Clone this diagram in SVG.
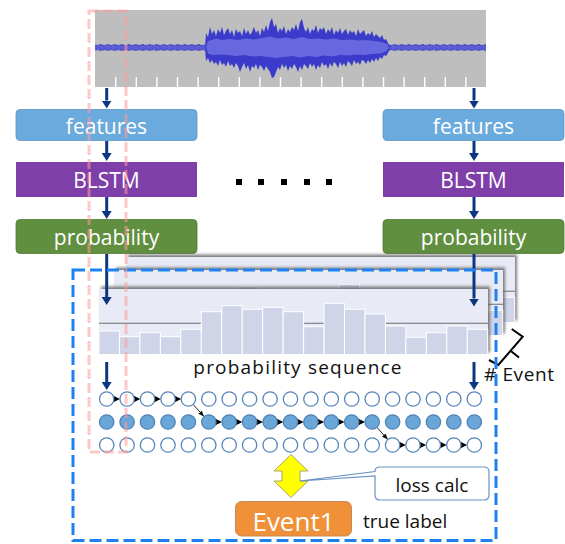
<svg xmlns="http://www.w3.org/2000/svg" xmlns:xlink="http://www.w3.org/1999/xlink" width="565" height="544" viewBox="0 0 565 544">
<defs>
<style>
.t{font-family:"Open Sans","Liberation Sans",sans-serif;}
.bt{font-family:"Open Sans","Liberation Sans",sans-serif;font-size:21px;fill:#fff;text-anchor:middle;}
.nav{stroke:#0c3680;stroke-width:3;fill:none;marker-end:url(#ah);}
.thin{stroke:#111;stroke-width:0.9;fill:none;marker-end:url(#sh2);}
.c{fill:#fff;stroke:#5585ba;stroke-width:1.3;}
.cf{fill:#6aa6d8;stroke:#4f83b8;stroke-width:1.3;}
.bar{fill:#cfd4e9;stroke:#fff;stroke-width:1;}
.tick{stroke:#fff;stroke-width:1.4;}
</style>
<marker id="ah" viewBox="0 0 10 10" refX="0" refY="5" markerWidth="8" markerHeight="10" markerUnits="userSpaceOnUse" orient="auto" preserveAspectRatio="none"><path d="M0,0 L10,5 L0,10 Z" fill="#0c3680"/></marker>
<marker id="sh2" viewBox="0 0 10 10" refX="10" refY="5" markerWidth="6" markerHeight="6" markerUnits="userSpaceOnUse" orient="auto"><path d="M0,1 L10,5 L0,9 Z" fill="#111"/></marker>
<path id="tri" d="M-7,-3.6 L0,0 L-7,3.6 Z" fill="#000"/>
<filter id="shadow" x="-5%" y="-20%" width="115%" height="140%"><feDropShadow dx="2" dy="-2.5" stdDeviation="1.6" flood-color="#555" flood-opacity="0.75"/></filter>
<pattern id="quiet" x="0" y="44" width="7" height="7" patternUnits="userSpaceOnUse">
<rect x="0" y="1.5" width="7" height="4" fill="#5c5cd8"/>
<path d="M0,1.5 L1,0.5 L2,2 L3,0 L4,1.8 L5,0.8 L6,2.2 L7,1.5 M0,5.5 L1,6.6 L2,5 L3,6.8 L4,5.2 L5,6.4 L6,5 L7,5.5" stroke="#3434c6" stroke-width="0.9" fill="none"/>
</pattern>
<g id="chart">
<rect x="99" y="289" width="389" height="66" fill="#e8ebf5" filter="url(#shadow)"/>
<line x1="99" y1="323.3" x2="488" y2="323.3" stroke="#6e6e6e" stroke-width="1.1"/>
<rect class="bar" x="99" y="331" width="20.46" height="23.5"/>
<rect class="bar" x="119.46" y="336.7" width="20.46" height="17.8"/>
<rect class="bar" x="139.92" y="332.7" width="20.46" height="21.8"/>
<rect class="bar" x="160.38" y="336.7" width="20.46" height="17.8"/>
<rect class="bar" x="180.84" y="329.3" width="20.46" height="25.2"/>
<rect class="bar" x="201.3" y="311.7" width="20.46" height="42.8"/>
<rect class="bar" x="221.76" y="305.7" width="20.46" height="48.8"/>
<rect class="bar" x="242.22" y="309.3" width="20.46" height="45.2"/>
<rect class="bar" x="262.68" y="307.3" width="20.46" height="47.2"/>
<rect class="bar" x="283.14" y="311.7" width="20.46" height="42.8"/>
<rect class="bar" x="303.6" y="326.7" width="20.46" height="27.8"/>
<rect class="bar" x="324.06" y="303.3" width="20.46" height="51.2"/>
<rect class="bar" x="344.52" y="309.3" width="20.46" height="45.2"/>
<rect class="bar" x="364.98" y="314" width="20.46" height="40.5"/>
<rect class="bar" x="385.44" y="326" width="20.46" height="28.5"/>
<rect class="bar" x="405.9" y="337.3" width="20.46" height="17.2"/>
<rect class="bar" x="426.36" y="332.7" width="20.46" height="21.8"/>
<rect class="bar" x="446.82" y="326" width="20.46" height="28.5"/>
<rect class="bar" x="467.28" y="329.3" width="20.46" height="25.2"/>
</g>
</defs>

<g id="waveform">
<rect x="95" y="10" width="391" height="77" fill="#bebebe"/>
<rect x="95" y="44" width="110" height="7" fill="url(#quiet)"/>
<rect x="389" y="44" width="97" height="7" fill="url(#quiet)"/>
<path fill="#3a3acb" d="M205,47 L206,33 L208,37 L210,27 L212,34 L214,30 L216,36 L218,29 L220,33 L222,27 L224,35 L226,31 L228,28 L230,34 L232,30 L234,37 L236,29 L238,33 L240,31 L242,36 L244,28 L246,34 L248,30 L250,35 L252,32 L254,27 L256,33 L258,30 L260,36 L262,28 L264,32 L266,25 L268,31 L270,22 L272,18 L274,27 L276,24 L278,33 L280,28 L282,31 L284,26 L286,34 L288,29 L290,32 L292,27 L294,30 L296,24 L298,31 L300,22 L302,19 L304,28 L306,32 L308,27 L310,34 L312,29 L314,31 L316,25 L318,33 L320,28 L322,30 L324,27 L326,34 L328,29 L330,32 L332,27 L334,35 L336,30 L338,33 L340,28 L342,34 L344,31 L346,29 L348,35 L350,30 L352,33 L354,31 L356,36 L358,29 L360,34 L362,32 L364,30 L366,36 L368,33 L370,35 L372,31 L374,37 L376,34 L378,36 L380,38 L382,35 L384,40 L386,39 L388,43 L390,46 L390,49 L388,53 L386,56 L384,55 L382,59 L380,57 L378,61 L376,58 L374,62 L372,59 L370,63 L368,60 L366,64 L364,61 L362,60 L360,65 L358,62 L356,64 L354,60 L352,66 L350,63 L348,61 L346,67 L344,63 L342,66 L340,62 L338,68 L336,64 L334,62 L332,67 L330,63 L328,69 L326,64 L324,66 L322,62 L320,68 L318,65 L316,70 L314,64 L312,67 L310,63 L308,69 L306,66 L304,64 L302,70 L300,66 L298,72 L296,67 L294,64 L292,69 L290,66 L288,71 L286,65 L284,68 L282,64 L280,70 L278,67 L276,72 L274,77 L272,78 L270,72 L268,69 L266,66 L264,71 L262,67 L260,65 L258,70 L256,64 L254,68 L252,66 L250,72 L248,65 L246,69 L244,63 L242,67 L240,72 L238,66 L236,63 L234,68 L232,64 L230,66 L228,61 L226,67 L224,63 L222,65 L220,60 L218,66 L216,62 L214,64 L212,60 L210,63 L208,58 L206,61 L205,48 Z"/>
<path fill="#6767df" d="M206,47 L208,41 L212,40 L216,38.5 L222,40 L230,39 L238,40 L246,38.5 L254,39.5 L262,38 L270,36.5 L278,38.5 L286,37.5 L294,39 L302,37 L310,39 L318,38.5 L326,39.5 L334,38.5 L342,40 L350,39.5 L358,40.5 L366,40 L374,41 L382,42 L388,44.5 L389,48 L386,51.5 L380,53.5 L372,54 L364,55 L356,54.5 L348,55.5 L340,55 L332,56.5 L324,55.5 L316,57 L308,56 L300,57.5 L292,56 L284,57 L276,58 L268,57 L260,56 L252,56.5 L244,55 L236,56 L228,55 L220,54.5 L212,55 L208,53.5 Z"/>
<line class="tick" x1="115.7" y1="77" x2="115.7" y2="87"/>
<line class="tick" x1="136.3" y1="77" x2="136.3" y2="87"/>
<line class="tick" x1="156.9" y1="77" x2="156.9" y2="87"/>
<line class="tick" x1="177.5" y1="77" x2="177.5" y2="87"/>
<line class="tick" x1="198.1" y1="77" x2="198.1" y2="87"/>
<line class="tick" x1="218.7" y1="77" x2="218.7" y2="87"/>
<line class="tick" x1="239.3" y1="77" x2="239.3" y2="87"/>
<line class="tick" x1="259.9" y1="77" x2="259.9" y2="87"/>
<line class="tick" x1="280.5" y1="77" x2="280.5" y2="87"/>
<line class="tick" x1="301.1" y1="77" x2="301.1" y2="87"/>
<line class="tick" x1="321.7" y1="77" x2="321.7" y2="87"/>
<line class="tick" x1="342.3" y1="77" x2="342.3" y2="87"/>
<line class="tick" x1="362.9" y1="77" x2="362.9" y2="87"/>
<line class="tick" x1="383.5" y1="77" x2="383.5" y2="87"/>
<line class="tick" x1="404.1" y1="77" x2="404.1" y2="87"/>
<line class="tick" x1="424.7" y1="77" x2="424.7" y2="87"/>
<line class="tick" x1="445.3" y1="77" x2="445.3" y2="87"/>
<line class="tick" x1="465.9" y1="77" x2="465.9" y2="87"/>
</g>

<g id="features-left"><rect x="16" y="109.5" width="181" height="31" rx="4" fill="#6aaadc" stroke="#5a94c4" stroke-width="0.8"/><text class="bt" x="106.5" y="133.5">features</text></g>
<g id="blstm-left"><rect x="16" y="162" width="181" height="35" fill="#7f3fa9"/><text class="bt" x="106.5" y="187.5">BLSTM</text></g>
<g id="probability-left"><rect x="16" y="219.5" width="181" height="34" rx="4" fill="#5f8f3f" stroke="#4f7c33" stroke-width="0.8"/><text class="bt" x="106.5" y="245">probability</text></g>

<g id="features-right"><rect x="383" y="109.5" width="181" height="31" rx="4" fill="#6aaadc" stroke="#5a94c4" stroke-width="0.8"/><text class="bt" x="473.5" y="133.5">features</text></g>
<g id="blstm-right"><rect x="383" y="162" width="181" height="35" fill="#7f3fa9"/><text class="bt" x="473.5" y="187.5">BLSTM</text></g>
<g id="probability-right"><rect x="383" y="219.5" width="181" height="34" rx="4" fill="#5f8f3f" stroke="#4f7c33" stroke-width="0.8"/><text class="bt" x="473.5" y="245">probability</text></g>

<g id="ellipsis" fill="#000">
<rect x="236" y="179" width="6" height="6"/><rect x="258" y="179" width="6" height="6"/><rect x="281" y="179" width="6" height="6"/><rect x="304" y="179" width="6" height="6"/><rect x="326" y="179" width="6" height="6"/>
</g>

<g id="probability-sequence">
<use href="#chart" transform="translate(27,-32)"/>
<use href="#chart" transform="translate(15,-19)"/>
<use href="#chart"/>
<text class="t" x="298" y="374" font-size="19" letter-spacing="1.2" text-anchor="middle" fill="#111">probability sequence</text>
</g>

<g id="brace" fill="none" stroke="#000" stroke-width="2">
<path d="M511.7,329 L522.7,336.7 L498.3,365 L489,360 M510.5,350.8 L519,357.5"/>
<text class="t" x="484" y="381" font-size="19" letter-spacing="0.6" fill="#111" stroke="none">#&#160;Event</text>
</g>

<g id="connectors">
<line class="nav" x1="106.7" y1="88" x2="106.7" y2="100.5"/>
<line class="nav" x1="106.7" y1="141" x2="106.7" y2="153"/>
<line class="nav" x1="106.7" y1="197" x2="106.7" y2="211"/>
<line class="nav" x1="106.7" y1="254" x2="106.7" y2="297"/>
<line class="nav" x1="106.7" y1="362" x2="106.7" y2="382"/>
<line class="nav" x1="474" y1="88" x2="474" y2="100.5"/>
<line class="nav" x1="474" y1="141" x2="474" y2="153"/>
<line class="nav" x1="474" y1="197" x2="474" y2="211"/>
<line class="nav" x1="474" y1="254" x2="474" y2="298.5"/>
<line class="nav" x1="474" y1="362" x2="474" y2="382"/>
<line class="thin" x1="193.2" y1="404.4" x2="204" y2="416.6"/>
<line class="thin" x1="377" y1="427.4" x2="387.8" y2="439.6"/>
<use href="#tri" x="119.9" y="399"/><use href="#tri" x="140.3" y="399"/><use href="#tri" x="160.8" y="399"/><use href="#tri" x="181.2" y="399"/>
<use href="#tri" x="222" y="422"/><use href="#tri" x="242.4" y="422"/><use href="#tri" x="262.9" y="422"/><use href="#tri" x="283.3" y="422"/><use href="#tri" x="303.7" y="422"/><use href="#tri" x="324.1" y="422"/><use href="#tri" x="344.5" y="422"/><use href="#tri" x="365" y="422"/>
<use href="#tri" x="405.8" y="445"/><use href="#tri" x="426.2" y="445"/><use href="#tri" x="446.6" y="445"/><use href="#tri" x="467.1" y="445"/>
</g>

<g id="state-grid">
<g class="c">
<circle cx="106.7" cy="399" r="7.2"/><circle cx="127.1" cy="399" r="7.2"/><circle cx="147.5" cy="399" r="7.2"/><circle cx="168" cy="399" r="7.2"/><circle cx="188.4" cy="399" r="7.2"/><circle cx="208.8" cy="399" r="7.2"/><circle cx="229.2" cy="399" r="7.2"/><circle cx="249.6" cy="399" r="7.2"/><circle cx="270.1" cy="399" r="7.2"/><circle cx="290.5" cy="399" r="7.2"/><circle cx="310.9" cy="399" r="7.2"/><circle cx="331.3" cy="399" r="7.2"/><circle cx="351.7" cy="399" r="7.2"/><circle cx="372.2" cy="399" r="7.2"/><circle cx="392.6" cy="399" r="7.2"/><circle cx="413" cy="399" r="7.2"/><circle cx="433.4" cy="399" r="7.2"/><circle cx="453.8" cy="399" r="7.2"/><circle cx="474.3" cy="399" r="7.2"/>
<circle cx="106.7" cy="445" r="7.2"/><circle cx="127.1" cy="445" r="7.2"/><circle cx="147.5" cy="445" r="7.2"/><circle cx="168" cy="445" r="7.2"/><circle cx="188.4" cy="445" r="7.2"/><circle cx="208.8" cy="445" r="7.2"/><circle cx="229.2" cy="445" r="7.2"/><circle cx="249.6" cy="445" r="7.2"/><circle cx="270.1" cy="445" r="7.2"/><circle cx="290.5" cy="445" r="7.2"/><circle cx="310.9" cy="445" r="7.2"/><circle cx="331.3" cy="445" r="7.2"/><circle cx="351.7" cy="445" r="7.2"/><circle cx="372.2" cy="445" r="7.2"/><circle cx="392.6" cy="445" r="7.2"/><circle cx="413" cy="445" r="7.2"/><circle cx="433.4" cy="445" r="7.2"/><circle cx="453.8" cy="445" r="7.2"/><circle cx="474.3" cy="445" r="7.2"/>
</g>
<g class="cf">
<circle cx="106.7" cy="422" r="7.2"/><circle cx="127.1" cy="422" r="7.2"/><circle cx="147.5" cy="422" r="7.2"/><circle cx="168" cy="422" r="7.2"/><circle cx="188.4" cy="422" r="7.2"/><circle cx="208.8" cy="422" r="7.2"/><circle cx="229.2" cy="422" r="7.2"/><circle cx="249.6" cy="422" r="7.2"/><circle cx="270.1" cy="422" r="7.2"/><circle cx="290.5" cy="422" r="7.2"/><circle cx="310.9" cy="422" r="7.2"/><circle cx="331.3" cy="422" r="7.2"/><circle cx="351.7" cy="422" r="7.2"/><circle cx="372.2" cy="422" r="7.2"/><circle cx="392.6" cy="422" r="7.2"/><circle cx="413" cy="422" r="7.2"/><circle cx="433.4" cy="422" r="7.2"/><circle cx="453.8" cy="422" r="7.2"/><circle cx="474.3" cy="422" r="7.2"/>
</g>
</g>

<g id="loss-arrow"><path d="M291,454.5 L308,471 L300,471 L300,481 L308,481 L291,497.5 L274,481 L282,481 L282,471 L274,471 Z" fill="#ffff00" stroke="#a9a276" stroke-width="1"/></g>

<g id="loss-calc">
<path d="M380,467 H484 Q489,467 489,472 V495 Q489,500 484,500 H380 Q375,500 375,495 V476 L300,481 L375,471.5 Q375,467 380,467 Z" fill="#fff" stroke="#6a92c2" stroke-width="1.2"/>
<text class="t" x="432" y="492" font-size="19" text-anchor="middle" fill="#111">loss calc</text>
</g>

<g id="event1">
<rect x="235.5" y="501.5" width="116" height="34.5" rx="6" fill="#f0913a" stroke="#c48a5a" stroke-width="1"/>
<text class="t" x="293.5" y="530.5" font-size="26" text-anchor="middle" fill="#fff">Event1</text>
</g>
<g id="true-label"><text class="t" x="363" y="527.5" font-size="19" fill="#111">true label</text></g>

<g id="frames" fill="none">
<rect x="73" y="270" width="423" height="270.5" stroke="#1f80f0" stroke-width="3" stroke-dasharray="12 5"/>
<rect x="89" y="11" width="37" height="441" stroke="#ff9a9a" stroke-opacity="0.55" stroke-width="3" stroke-dasharray="10 4"/>
</g>
</svg>
